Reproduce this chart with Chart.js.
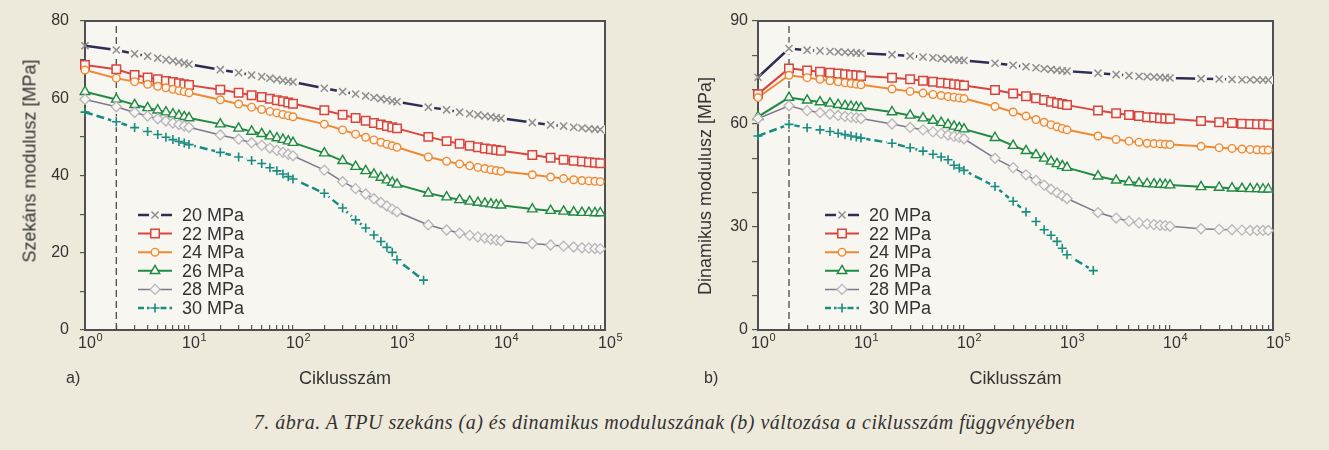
<!DOCTYPE html>
<html>
<head>
<meta charset="utf-8">
<script src="https://cdn.jsdelivr.net/npm/chart.js@4.4.1/dist/chart.umd.min.js"></script>
<style>
html,body{margin:0;padding:0;}
body{width:1329px;height:450px;background:#eeeadb;position:relative;overflow:hidden;font-family:"Liberation Sans",Arial,sans-serif;color:#333;}
canvas{position:absolute;top:0;}
#cL{left:0;}
#cR{left:665px;}
.ytitle{position:absolute;font-size:18px;color:#333;white-space:nowrap;transform:translate(-50%,-50%) rotate(-90deg);}
.panel{position:absolute;font-size:16px;color:#333;transform:translateY(-50%);}
#caption{position:absolute;left:0;width:1329px;top:422px;transform:translateY(-50%);text-align:center;font-family:"Liberation Serif","Times New Roman",serif;font-style:italic;font-size:20px;letter-spacing:0.5px;color:#333;}
</style>
</head>
<body>
<canvas id="cL" width="665" height="400"></canvas>
<canvas id="cR" width="664" height="400"></canvas>
<div class="ytitle" style="left:30px;top:161px;">Szekáns modulusz [MPa]</div>
<div class="ytitle" style="left:705px;top:186px;">Dinamikus modulusz [MPa]</div>
<div class="panel" style="left:66px;top:378px;">a)</div>
<div class="panel" style="left:704px;top:378px;">b)</div>
<div id="caption">7. ábra. A TPU szekáns (a) és dinamikus moduluszának (b) változása a ciklusszám függvényében</div>
<script>
// ---------- DATA ----------
const cycles = [1,2,3,4,5,6,7,8,9,10,20,30,40,50,60,70,80,90,100,200,300,400,500,600,700,800,900,1000,2000,3000,4000,5000,6000,7000,8000,9000,10000,20000,30000,40000,50000,60000,70000,80000,90000];
const cycles30 = [1,2,3,4,5,6,7,8,9,10,20,30,40,50,60,70,80,90,100,200,300,400,500,600,700,800,900,1000,1800];
const seriesLabels = ['20 MPa','22 MPa','24 MPa','26 MPa','28 MPa','30 MPa'];
const decadeBase = '10';
const decadeExponents = ['0','1','2','3','4','5'];
const xTitle = 'Ciklusszám';
const markerCycle = 2;

// (a) secant modulus [MPa]
const secant20 = [73.6,72.5,71.5,70.9,70.4,70.0,69.7,69.4,69.1,68.8,67.4,66.6,66.0,65.6,65.2,64.9,64.6,64.4,64.2,62.6,61.7,61.1,60.6,60.2,59.9,59.6,59.3,59.1,57.7,57.0,56.4,56.0,55.7,55.4,55.2,55.0,54.8,53.7,53.1,52.8,52.5,52.3,52.1,52.0,51.9];
const secant22 = [68.6,67.5,66.0,65.4,64.9,64.5,64.2,63.9,63.6,63.4,62.2,61.4,60.8,60.3,59.9,59.5,59.2,58.9,58.6,56.9,55.7,54.9,54.2,53.6,53.2,52.8,52.5,52.2,50.0,48.9,48.2,47.7,47.3,47.0,46.8,46.6,46.4,45.3,44.6,44.1,43.8,43.6,43.4,43.3,43.2];
const secant24 = [67.3,65.2,64.3,63.6,63.1,62.7,62.3,62.0,61.7,61.4,59.6,58.5,57.7,57.1,56.6,56.2,55.8,55.5,55.2,53.3,51.8,50.7,49.9,49.2,48.6,48.1,47.7,47.3,44.8,43.7,43.0,42.5,42.1,41.8,41.5,41.3,41.1,40.2,39.6,39.2,38.9,38.7,38.6,38.5,38.4];
const secant26 = [61.7,59.7,58.3,57.5,56.9,56.4,55.9,55.5,55.2,54.9,53.3,52.2,51.4,50.8,50.2,49.7,49.3,48.9,48.5,45.8,43.8,42.3,41.2,40.3,39.5,38.8,38.2,37.7,35.4,34.4,33.7,33.3,33.0,32.8,32.6,32.4,32.3,31.3,30.9,30.7,30.5,30.4,30.4,30.3,30.3];
const secant28 = [59.7,57.8,56.3,55.4,54.7,54.1,53.6,53.2,52.8,52.5,50.5,49.4,48.5,47.8,47.1,46.5,46.0,45.5,45.1,41.4,38.4,36.6,35.2,34.0,33.0,32.1,31.3,30.6,27.2,25.9,25.1,24.5,24.1,23.8,23.5,23.3,23.1,22.4,22.0,21.7,21.5,21.3,21.2,21.1,21.0];
const secant30 = [56.4,53.9,52.4,51.4,50.6,49.9,49.3,48.8,48.4,48.0,46.0,44.8,43.9,43.1,42.0,41.2,40.4,39.7,39.1,35.4,31.6,28.5,26.4,24.6,22.9,21.4,20.1,18.2,12.9];

// (b) dynamic modulus [MPa]
const dynamic20 = [73.6,82.0,81.5,81.3,81.1,81.0,80.9,80.8,80.7,80.6,80.2,79.8,79.5,79.3,79.1,78.9,78.7,78.6,78.5,77.7,77.1,76.7,76.4,76.1,75.9,75.7,75.5,75.4,74.8,74.4,74.1,73.9,73.8,73.7,73.6,73.5,73.4,73.2,73.1,73.0,72.9,72.9,72.8,72.8,72.8];
const dynamic22 = [68.7,76.2,75.6,75.2,74.9,74.7,74.5,74.3,74.2,74.0,73.5,73.0,72.6,72.3,72.0,71.8,71.6,71.4,71.2,69.9,68.9,68.1,67.5,67.0,66.5,66.1,65.8,65.5,63.9,63.1,62.6,62.3,62.0,61.9,61.7,61.6,61.5,60.9,60.5,60.3,60.1,60.0,59.9,59.9,59.8];
const dynamic24 = [67.7,74.2,73.5,73.0,72.6,72.3,72.0,71.8,71.6,71.4,70.2,69.5,69.0,68.6,68.3,68.0,67.8,67.6,67.4,65.1,63.5,62.3,61.3,60.5,59.8,59.2,58.7,58.3,56.5,55.5,55.0,54.7,54.4,54.3,54.2,54.1,54.0,53.5,53.1,52.9,52.7,52.6,52.5,52.4,52.4];
const dynamic26 = [62.1,67.7,66.9,66.4,66.0,65.6,65.3,65.1,64.9,64.7,63.5,62.5,61.7,61.0,60.4,59.8,59.3,58.9,58.5,56.0,53.7,52.2,51.0,50.0,49.1,48.4,47.8,47.3,44.8,43.6,43.1,42.8,42.6,42.5,42.4,42.3,42.2,41.7,41.5,41.3,41.2,41.1,41.1,41.0,41.0];
const dynamic28 = [61.6,65.3,63.9,63.3,62.9,62.5,62.2,62.0,61.8,61.6,60.0,59.0,58.3,57.7,57.2,56.8,56.4,56.1,55.7,50.0,47.3,45.2,43.6,42.2,41.0,40.0,39.1,38.3,34.2,32.6,31.7,31.2,30.9,30.7,30.5,30.4,30.2,29.5,29.3,29.2,29.1,29.0,29.0,29.0,29.0];
const dynamic30 = [56.5,59.9,58.9,58.3,57.8,57.3,56.9,56.5,56.2,55.9,54.4,53.1,52.1,51.2,50.4,49.6,48.0,47.2,46.5,41.8,37.5,34.4,31.6,29.2,27.6,25.8,23.8,21.9,17.3];

// ---------- STYLES ----------
const PLOT_BG = '#f8f6f0';
const FONT = '"Liberation Sans", Arial, sans-serif';
const seriesStyles = [
  {line:'#2d2d55', lw:2.5, dash:[], marker:'crossRot', mColor:'#8e8e8e', mFill:'rgba(0,0,0,0)', r:5, mw:1.5, halo:6},
  {line:'#d9443e', lw:2, dash:[], marker:'rect', mColor:'#d9443e', mFill:PLOT_BG, r:6, mw:1.5, halo:0},
  {line:'#ef8a34', lw:2, dash:[], marker:'circle', mColor:'#ef8a34', mFill:PLOT_BG, r:3.8, mw:1.4, halo:0},
  {line:'#208a45', lw:2, dash:[], marker:'triangle', mColor:'#208a45', mFill:PLOT_BG, r:5.5, mw:1.4, halo:0},
  {line:'#7d7890', lw:1.5, dash:[], marker:'rectRot', mColor:'#b9b5bc', mFill:PLOT_BG, r:5, mw:1.3, halo:0},
  {line:'#178c80', lw:2.5, dash:[8,4], marker:'cross', mColor:'#178c80', mFill:'rgba(0,0,0,0)', r:4.5, mw:1.6, halo:5.5}
];

function pts(xs, ys){ return xs.map((x,i)=>({x:x, y:ys[i]})); }

function buildDatasets(seriesList, yMax){
  const ds = [];
  ds.push({data:[{x:markerCycle,y:0},{x:markerCycle,y:yMax}], borderColor:'#4a4a4a', borderWidth:1.3, borderDash:[7,4], pointRadius:0, order:300});
  seriesList.forEach((d,i)=>{
    const s = seriesStyles[i];
    ds.push({data:d, borderColor:s.line, borderWidth:s.lw, borderDash:s.dash, pointRadius:0, tension:0, order:200});
    if (s.halo){
      ds.push({data:d, showLine:false, pointStyle:'circle', pointRadius:(c)=> (c.raw && c.raw.x===1) ? 0 : s.halo, pointBackgroundColor:PLOT_BG, pointBorderWidth:0, order:100});
    }
    ds.push({data:d, showLine:false, pointStyle:s.marker, pointRadius:s.r, pointBorderColor:s.mColor, pointBackgroundColor:s.mFill, pointBorderWidth:s.mw, clip:false, order:50 - i});
  });
  return ds;
}

const frameAndLegend = {
  id:'frameAndLegend',
  beforeDraw(chart){
    const {ctx, chartArea:a} = chart;
    ctx.save(); ctx.fillStyle = PLOT_BG; ctx.fillRect(a.left, a.top, a.right-a.left, a.bottom-a.top); ctx.restore();
  },
  beforeDatasetsDraw(chart){
    const {ctx, chartArea:a} = chart;
    ctx.save(); ctx.strokeStyle = '#4f4f4f'; ctx.lineWidth = 2;
    ctx.strokeRect(a.left, a.top, a.right-a.left, a.bottom-a.top); ctx.restore();
  },
  afterDatasetsDraw(chart, args, opts){
    const ctx = chart.ctx;
    const x0 = opts.x, y0 = opts.y, dy = opts.dy, w = 34;
    ctx.save();
    seriesStyles.forEach((s,i)=>{
      const y = y0 + i*dy;
      ctx.strokeStyle = s.line; ctx.lineWidth = s.lw; ctx.setLineDash(s.dash.length ? [6,3] : []);
      ctx.beginPath();
      if (s.halo){ ctx.moveTo(x0, y); ctx.lineTo(x0 + w/2 - s.halo, y); ctx.moveTo(x0 + w/2 + s.halo, y); ctx.lineTo(x0 + w, y); }
      else { ctx.moveTo(x0, y); ctx.lineTo(x0 + w, y); }
      ctx.stroke(); ctx.setLineDash([]);
      ctx.strokeStyle = s.mColor; ctx.fillStyle = s.mFill; ctx.lineWidth = s.mw;
      Chart.helpers.drawPoint(ctx, {pointStyle:s.marker, radius:s.r, rotation:0, borderWidth:s.mw}, x0 + w/2, y);
      ctx.fillStyle = '#333'; ctx.font = '18px ' + FONT;
      ctx.textBaseline = 'middle'; ctx.textAlign = 'left';
      ctx.fillText(seriesLabels[i], x0 + w + 10, y + 1);
    });
    ctx.restore();
  },
  afterDraw(chart){
    // exponents of the decade labels on the logarithmic x axis
    const ctx = chart.ctx, xs = chart.scales.x;
    ctx.save();
    ctx.font = '11px ' + FONT; ctx.fillStyle = '#333'; ctx.textAlign = 'left'; ctx.textBaseline = 'middle';
    const baseFont = '16px ' + FONT;
    decadeExponents.forEach((e,i)=>{
      const px = xs.getPixelForValue(Math.pow(10, i));
      ctx.font = baseFont;
      const bw = ctx.measureText(decadeBase).width;
      ctx.font = '11px ' + FONT;
      ctx.fillText(e, px + 2 + bw/2 + 0.5, xs.top + 8);
    });
    ctx.restore();
  }
};

function keepIntegerSignificands(scale){
  scale.ticks = scale.ticks.filter(t=>{
    const e = Math.floor(Math.log10(t.value) + 1e-9);
    const m = t.value / Math.pow(10, e);
    return Math.abs(m - Math.round(m)) < 1e-6;
  });
}
function decadeLabel(v){
  const e = Math.round(Math.log10(v));
  return Math.abs(v - Math.pow(10, e)) < 1e-6 * v ? decadeBase : '';
}

function makeChart(id, seriesList, yMax, yLabelStep, yAxisWidth, padRight, yTickPad, yTickLen, legendX){
  return new Chart(document.getElementById(id), {
    type:'line',
    data:{datasets:buildDatasets(seriesList, yMax)},
    options:{
      responsive:false, animation:false, devicePixelRatio:1, events:[],
      layout:{padding:{left:0, right:padRight, top:21, bottom:0}},
      plugins:{legend:{display:false}, tooltip:{enabled:false},
        frameAndLegend:{x:legendX, y:215, dy:18.6}},
      scales:{
        x:{type:'logarithmic', min:1, max:100000,
          afterBuildTicks:keepIntegerSignificands,
          afterFit:(s)=>{ s.height = 70; },
          border:{display:false},
          grid:{display:true, drawOnChartArea:false, drawTicks:true, tickLength:-5, color:'#555', lineWidth:1.2},
          ticks:{autoSkip:false, maxRotation:0, minRotation:0, padding:9, labelOffset:2, color:'#333',
            font:{size:16, family:FONT}, callback:decadeLabel},
          title:{display:true, text:xTitle, color:'#333', padding:{top:0, bottom:10},
            font:{size:18, family:FONT}}
        },
        y:{type:'linear', min:0, max:yMax,
          afterFit:(s)=>{ s.width = yAxisWidth; },
          border:{display:false},
          grid:{display:true, drawOnChartArea:false, drawTicks:true, tickLength:yTickLen, color:'#555', lineWidth:1.2},
          ticks:{stepSize:10, padding:yTickPad, color:'#333',
            font:{size:16, family:FONT},
            callback:(v)=> (v % yLabelStep === 0) ? String(v) : ''}
        }
      }
    },
    plugins:[frameAndLegend]
  });
}

makeChart('cL',
  [pts(cycles,secant20), pts(cycles,secant22), pts(cycles,secant24), pts(cycles,secant26), pts(cycles,secant28), pts(cycles30,secant30)],
  80, 20, 85, 60, 11, 5, 138);
makeChart('cR',
  [pts(cycles,dynamic20), pts(cycles,dynamic22), pts(cycles,dynamic24), pts(cycles,dynamic26), pts(cycles,dynamic28), pts(cycles30,dynamic30)],
  90, 30, 93, 56, 4, 6, 160);
</script>
</body>
</html>
